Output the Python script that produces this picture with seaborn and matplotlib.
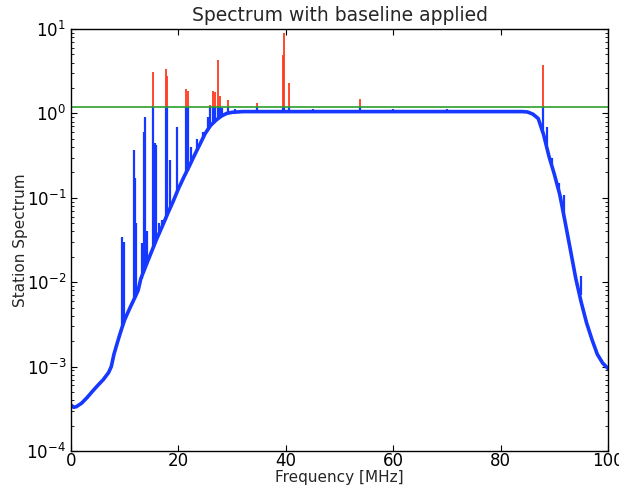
import numpy as np
import pandas as pd
import matplotlib
matplotlib.use('Agg')
import matplotlib.pyplot as plt
import seaborn as sns

# smooth floor of the spectrum (MHz, level)
baseline_freq = [0, 0.5, 1, 2, 3, 4, 5, 6, 7, 7.5, 8, 8.5, 9, 9.5, 10, 11, 12, 12.5, 13, 14, 15,
                 16, 17, 18, 19, 20, 21, 22, 23, 24, 25, 26, 27, 28, 29, 30, 32, 40, 50, 60, 70,
                 80, 84, 85, 86, 87, 88, 89, 90, 91, 92, 93, 94, 95, 96, 97, 98, 99, 100]
baseline_level = [3.5e-4, 3.3e-4, 3.35e-4, 3.7e-4, 4.3e-4, 5.1e-4, 6.0e-4, 7.0e-4, 8.5e-4, 1.0e-3,
                  1.4e-3, 1.8e-3, 2.3e-3, 2.9e-3, 3.6e-3, 5.0e-3, 6.8e-3, 8.0e-3, 1.1e-2, 1.6e-2,
                  2.3e-2, 3.3e-2, 4.6e-2, 6.5e-2, 9.0e-2, 0.128, 0.175, 0.235, 0.32, 0.43, 0.58,
                  0.72, 0.83, 0.93, 1.0, 1.03, 1.05, 1.05, 1.05, 1.05, 1.05, 1.05, 1.05, 1.04,
                  0.98, 0.87, 0.56, 0.31, 0.19, 0.11, 0.052, 0.024, 0.011, 0.0058, 0.0033,
                  0.0021, 0.0014, 0.0011, 0.00095]

# narrow lines sitting on top of the floor
spike_freq = [9.5, 9.7, 9.9, 11.7, 11.9, 12.1, 13.2, 13.6, 13.8, 14.1, 15.3, 15.6, 15.9, 16.3,
              16.9, 17.6, 17.9, 18.4, 19.7, 21.5, 21.7, 22.3, 23.5, 24.5, 25.5, 25.9, 26.5,
              26.9, 27.4, 27.7, 28.2, 29.2, 30.5, 34.6, 39.4, 39.6, 40.6, 45.0, 53.8, 60.0,
              70.0, 87.9, 88.6, 89.6, 90.8, 91.8, 95.0]
spike_peak = [0.034, 0.012, 0.03, 0.37, 0.17, 0.05, 0.029, 0.6, 0.91, 0.04, 3.1, 0.45, 0.42,
              0.05, 0.055, 3.4, 2.8, 0.28, 0.69, 1.95, 1.85, 0.4, 0.5, 0.6, 0.9, 1.25, 1.85,
              1.8, 4.3, 1.6, 1.15, 1.45, 1.12, 1.32, 4.9, 8.9, 2.3, 1.12, 1.48, 1.12, 1.12,
              3.7, 0.69, 0.3, 0.15, 0.108, 0.012]
spike_base = [0.0029, 0.0031, 0.0034, 0.0062, 0.0066, 0.007, 0.011, 0.013, 0.014, 0.016,
              0.025, 0.028, 0.031, 0.036, 0.045, 0.055, 0.06, 0.075, 0.115, 0.2, 0.21, 0.26,
              0.37, 0.5, 0.64, 0.7, 0.78, 0.82, 0.87, 0.9, 0.95, 1.0, 1.04, 1.05, 1.05, 1.05,
              1.05, 1.05, 1.05, 1.05, 1.05, 0.57, 0.42, 0.25, 0.12, 0.06, 0.007]

threshold = 1.2

blue = '#1638ff'
red = '#ff3a1f'
green = '#2ca02c'

sns.set_style('ticks')
plt.rcParams.update({
    'font.family': ['DejaVu Sans'],
    'xtick.direction': 'in', 'ytick.direction': 'in',
    'xtick.top': True, 'ytick.right': True,
    'xtick.major.size': 4, 'ytick.major.size': 4,
    'xtick.minor.size': 2, 'ytick.minor.size': 2,
    'axes.edgecolor': 'black', 'axes.linewidth': 1.0,
    'xtick.color': 'black', 'ytick.color': 'black',
})

fig = plt.figure(figsize=(6.19, 4.88), dpi=100)
ax = fig.add_axes([0.1147, 0.0758, 0.8676, 0.8648])

base = pd.DataFrame({'freq': baseline_freq, 'level': baseline_level})
spikes = pd.DataFrame({'freq': spike_freq, 'peak': spike_peak, 'base': spike_base})
spikes['clip'] = spikes['peak'].clip(upper=threshold)
over = spikes[spikes['peak'] > threshold]

# red part of the lines above the threshold
ax.vlines(over['freq'], threshold, over['peak'], color=red, lw=1.3)
# blue spectrum below the threshold
ax.vlines(spikes['freq'], spikes['base'], spikes['clip'], color=blue, lw=1.6)
sns.lineplot(data=base, x='freq', y='level', sort=False, estimator=None,
             color=blue, lw=2.6, ax=ax)
ax.axhline(threshold, color=green, lw=1.2)

ax.set_yscale('log')
ax.set_xlim(0, 100)
ax.set_ylim(1e-4, 1e1)
ax.set_title('Spectrum with baseline applied', fontsize=13.5)
ax.set_xlabel('Frequency [MHz]', fontsize=11, labelpad=0)
ax.set_ylabel('Station Spectrum', fontsize=11, labelpad=-1)
ax.tick_params(labelsize=12)
ax.tick_params(axis='x', pad=1)

fig.savefig('out.png', dpi=100)
